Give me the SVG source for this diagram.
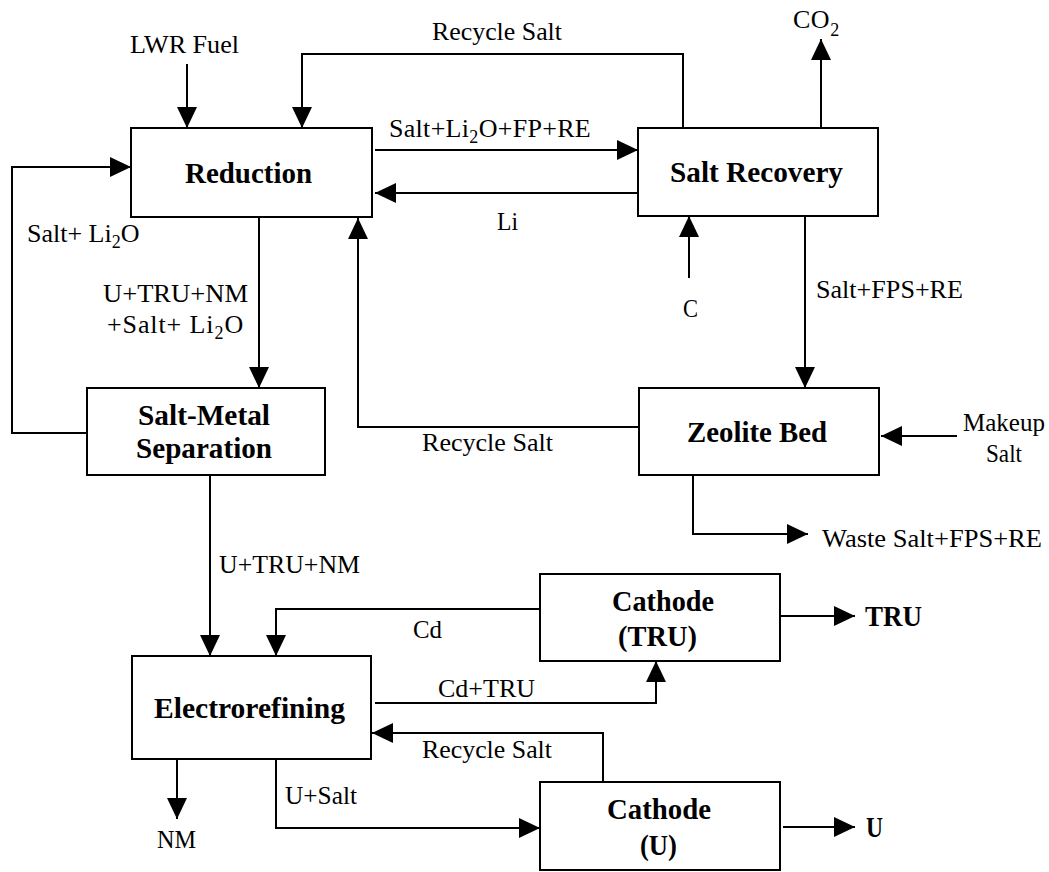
<svg xmlns="http://www.w3.org/2000/svg" width="1049" height="872" viewBox="0 0 1049 872">
<style>
.box{fill:#fff;stroke:#000;stroke-width:2}
.ln{fill:none;stroke:#000;stroke-width:2}
.b{font-family:"Liberation Serif","Times New Roman",serif;font-weight:bold;font-size:29px;fill:#000}
.r{font-family:"Liberation Serif","Times New Roman",serif;font-size:26px;fill:#000}
.sub{font-size:18px}
</style>
<defs>
<marker id="ah" markerUnits="userSpaceOnUse" markerWidth="21" markerHeight="20" refX="21" refY="10" orient="auto">
<path d="M0,0 L21,10 L0,20 z" fill="#000"/>
</marker>
</defs>
<rect width="1049" height="872" fill="#fff"/>
<g id="connectors">
<path class="ln" d="M187,64 V128" marker-end="url(#ah)"/>
<path class="ln" d="M683,128 V54 H302 V128" marker-end="url(#ah)"/>
<path class="ln" d="M375,150 H638" marker-end="url(#ah)"/>
<path class="ln" d="M638,193 H375" marker-end="url(#ah)"/>
<path class="ln" d="M821,128 V39" marker-end="url(#ah)"/>
<path class="ln" d="M689,278 V216" marker-end="url(#ah)"/>
<path class="ln" d="M805,216 V388" marker-end="url(#ah)"/>
<path class="ln" d="M639,427 H358 V218" marker-end="url(#ah)"/>
<path class="ln" d="M957,436 H881" marker-end="url(#ah)"/>
<path class="ln" d="M693,475 V534 H808" marker-end="url(#ah)"/>
<path class="ln" d="M259,217 V388" marker-end="url(#ah)"/>
<path class="ln" d="M87,433 H12 V167 H131" marker-end="url(#ah)"/>
<path class="ln" d="M210,475 V656" marker-end="url(#ah)"/>
<path class="ln" d="M540,609 H276 V656" marker-end="url(#ah)"/>
<path class="ln" d="M375,703 H656 V661" marker-end="url(#ah)"/>
<path class="ln" d="M603,782 V733 H372" marker-end="url(#ah)"/>
<path class="ln" d="M177,759 V819" marker-end="url(#ah)"/>
<path class="ln" d="M276,759 V828 H540" marker-end="url(#ah)"/>
<path class="ln" d="M780,616 H855" marker-end="url(#ah)"/>
<path class="ln" d="M783,827 H855" marker-end="url(#ah)"/>
</g>
<g id="labels">
<text class="r" x="130" y="53" textLength="109" lengthAdjust="spacingAndGlyphs">LWR Fuel</text>
<text class="r" x="432" y="40" textLength="130" lengthAdjust="spacingAndGlyphs">Recycle Salt</text>
<text class="r" x="389" y="137" style="letter-spacing:0.3px">Salt+Li<tspan class="sub" dy="6">2</tspan><tspan dy="-6">O+FP+RE</tspan></text>
<text class="r" x="793" y="28" style="letter-spacing:0.5px">CO<tspan class="sub" dy="8">2</tspan></text>
<text class="r" x="497" y="230" textLength="21" lengthAdjust="spacingAndGlyphs">Li</text>
<text class="r" x="683" y="317" textLength="15" lengthAdjust="spacingAndGlyphs">C</text>
<text class="r" x="816" y="298" textLength="147" lengthAdjust="spacingAndGlyphs">Salt+FPS+RE</text>
<text class="r" x="27" y="242">Salt+ Li<tspan class="sub" dy="6">2</tspan><tspan dy="-6">O</tspan></text>
<text class="r" x="103" y="302" textLength="145" lengthAdjust="spacingAndGlyphs">U+TRU+NM</text>
<text class="r" x="107" y="333" style="letter-spacing:0.9px">+Salt+ Li<tspan class="sub" dy="6">2</tspan><tspan dy="-6">O</tspan></text>
<text class="r" x="422" y="451" textLength="131" lengthAdjust="spacingAndGlyphs">Recycle Salt</text>
<text class="r" x="963" y="431" textLength="82" lengthAdjust="spacingAndGlyphs">Makeup</text>
<text class="r" x="986" y="462" textLength="36" lengthAdjust="spacingAndGlyphs">Salt</text>
<text class="r" x="822" y="547" textLength="220" lengthAdjust="spacingAndGlyphs">Waste Salt+FPS+RE</text>
<text class="r" x="219" y="573" textLength="141" lengthAdjust="spacingAndGlyphs">U+TRU+NM</text>
<text class="r" x="413" y="638" textLength="29" lengthAdjust="spacingAndGlyphs">Cd</text>
<text class="r" x="438" y="697" textLength="97" lengthAdjust="spacingAndGlyphs">Cd+TRU</text>
<text class="r" x="422" y="758" textLength="130" lengthAdjust="spacingAndGlyphs">Recycle Salt</text>
<text class="r" x="157" y="848" textLength="39" lengthAdjust="spacingAndGlyphs">NM</text>
<text class="r" x="285" y="804" textLength="72" lengthAdjust="spacingAndGlyphs">U+Salt</text>
<text class="b" x="865" y="626" textLength="57" lengthAdjust="spacingAndGlyphs">TRU</text>
<text class="b" x="866" y="837" textLength="17" lengthAdjust="spacingAndGlyphs">U</text>
</g>
<g id="reduction">
<rect class="box" x="131" y="128" width="241" height="89"/>
<text class="b" x="185" y="183" textLength="127" lengthAdjust="spacingAndGlyphs">Reduction</text>
</g>
<g id="salt-recovery">
<rect class="box" x="638" y="128" width="240" height="88"/>
<text class="b" x="670" y="182" textLength="173" lengthAdjust="spacingAndGlyphs">Salt Recovery</text>
</g>
<g id="salt-metal-separation">
<rect class="box" x="87" y="388" width="238" height="87"/>
<text class="b" x="138" y="425" textLength="132" lengthAdjust="spacingAndGlyphs">Salt-Metal</text>
<text class="b" x="136" y="458" textLength="136" lengthAdjust="spacingAndGlyphs">Separation</text>
</g>
<g id="zeolite-bed">
<rect class="box" x="639" y="388" width="240" height="87"/>
<text class="b" x="687" y="442" textLength="140" lengthAdjust="spacingAndGlyphs">Zeolite Bed</text>
</g>
<g id="electrorefining">
<rect class="box" x="132" y="656" width="239" height="103"/>
<text class="b" x="154" y="718" textLength="191" lengthAdjust="spacingAndGlyphs">Electrorefining</text>
</g>
<g id="cathode-tru">
<rect class="box" x="540" y="574" width="240" height="87"/>
<text class="b" x="612" y="611" textLength="102" lengthAdjust="spacingAndGlyphs">Cathode</text>
<text class="b" x="618" y="646" textLength="79" lengthAdjust="spacingAndGlyphs">(TRU)</text>
</g>
<g id="cathode-u">
<rect class="box" x="540" y="782" width="240" height="88"/>
<text class="b" x="607" y="819" textLength="104" lengthAdjust="spacingAndGlyphs">Cathode</text>
<text class="b" x="640" y="855" textLength="37" lengthAdjust="spacingAndGlyphs">(U)</text>
</g>
</svg>
